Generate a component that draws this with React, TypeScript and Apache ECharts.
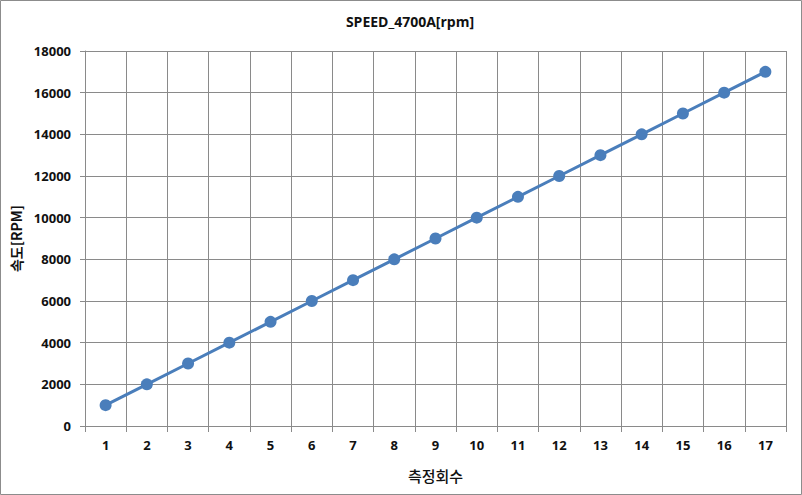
import React, { useEffect, useRef } from "react";
import * as echarts from "echarts";

const categories = ["1","2","3","4","5","6","7","8","9","10","11","12","13","14","15","16","17"];
const speedValues = [1000,2000,3000,4000,5000,6000,7000,8000,9000,10000,11000,12000,13000,14000,15000,16000,17000];
const titleText = "SPEED_4700A[rpm]";
const xName = "측정회수";
const yName = "속도[RPM]";

const font = "'Open Sans', 'Noto Sans CJK KR', sans-serif";
const gridColor = "#8a8a8a";

export default function App() {
  const ref = useRef<HTMLDivElement>(null);
  useEffect(() => {
    const chart = echarts.init(ref.current!, null, { renderer: "svg" });
    chart.setOption({
      animation: false,
      backgroundColor: "#fff",
      title: {
        text: titleText,
        left: 405,
        textAlign: "center",
        top: 9,
        textStyle: { fontFamily: font, fontWeight: "bold", fontSize: 14, color: "#111" },
      },
      graphic: [
        {
          type: "rect",
          shape: { x: 0.5, y: 0.5, width: 801, height: 494 },
          style: { fill: "none", stroke: "#8c8c8c", lineWidth: 1 },
          silent: true,
        },
      ],
      grid: { left: 85, right: 16, top: 51, bottom: 69 },
      xAxis: {
        type: "category",
        data: categories,
        boundaryGap: true,
        name: xName,
        nameLocation: "middle",
        nameGap: 42,
        nameTextStyle: { fontFamily: "'Noto Sans CJK KR', sans-serif", fontWeight: 500, fontSize: 15, color: "#111" },
        axisLine: { show: true, lineStyle: { color: gridColor, width: 1 } },
        axisTick: { show: true, length: 6, interval: 0, lineStyle: { color: gridColor } },
        axisLabel: { interval: 0, margin: 12, fontFamily: font, fontWeight: "bold", fontSize: 13, color: "#111" },
        splitLine: { show: true, interval: 0, lineStyle: { color: gridColor, width: 1 } },
      },
      yAxis: {
        type: "value",
        min: 0,
        max: 18000,
        interval: 2000,
        name: yName,
        nameLocation: "middle",
        nameGap: 60,
        nameTextStyle: { fontFamily: "'Noto Sans CJK KR', sans-serif", fontWeight: "bold", fontSize: 14, color: "#111" },
        axisLine: { show: true, lineStyle: { color: gridColor, width: 1 } },
        axisTick: { show: true, length: 5, lineStyle: { color: gridColor } },
        axisLabel: {
          margin: 14,
          formatter: (v: number) => String(v),
          fontFamily: font,
          fontWeight: "bold",
          fontSize: 13,
          color: "#111",
        },
        splitLine: { show: true, lineStyle: { color: gridColor, width: 1 } },
      },
      series: [
        {
          type: "line",
          data: speedValues,
          symbol: "circle",
          symbolSize: 12,
          itemStyle: { color: "#4a7ebb" },
          lineStyle: { color: "#4a7ebb", width: 3 },
        },
      ],
    });
    return () => chart.dispose();
  }, []);
  return (
    <div
      ref={ref}
      style={{ position: "fixed", left: 0, top: 0, width: 802, height: 495 }}
    />
  );
}
